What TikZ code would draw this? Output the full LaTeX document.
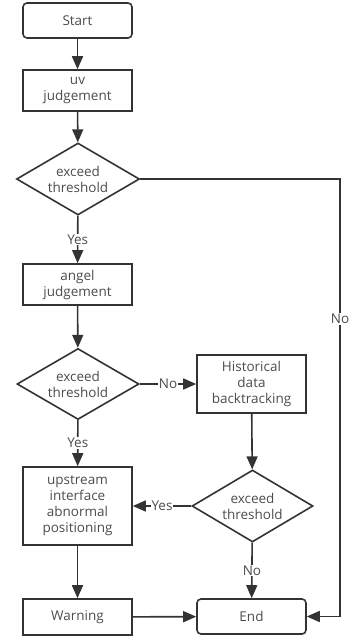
\documentclass[tikz,border=0pt]{standalone}
\usepackage{fontspec}
\setmainfont{Open Sans}
\usepackage{tikz}
\usetikzlibrary{arrows.meta,shapes.geometric}

\tikzset{
  box/.style={draw=black!80, line width=1.6pt, minimum width=109pt, align=center, inner sep=2pt, text=black!70},
  term/.style={box, rounded corners=4pt},
  dec/.style={draw=black!80, line width=1.6pt, diamond, aspect=1.7, inner sep=0pt, align=center, text=black!70},
  arr/.style={draw=black!80, line width=1.6pt, -{Triangle[length=13pt,width=11pt]}},
  lbl/.style={fill=white, inner sep=1pt, text=black!70},
}

\begin{document}
\begin{tikzpicture}[x=1pt,y=-1pt,font=\fontsize{13.5}{16}\selectfont]
    \useasboundingbox (0,0) rectangle (351,641);

    %Left column
    \node[term, minimum height=35pt] (start) at (77.5,20.5) {Start};
    \node[box, minimum height=41pt] (uv) at (77.5,90.5) {uv\\judgement};
    \node[dec, minimum width=123pt, minimum height=72pt] (d1) at (78,179) {exceed\\threshold};
    \node[box, minimum height=41pt] (angel) at (77.5,284.5) {angel\\judgement};
    \node[dec, minimum width=122pt, minimum height=71pt] (d2) at (78,384) {exceed\\threshold};
    \node[box, minimum height=78pt] (up) at (77.5,506) {upstream\\interface\\abnormal\\positioning};
    \node[box, minimum height=36pt] (warn) at (77.5,617) {Warning};

    %Right column
    \node[box, minimum height=58pt] (hist) at (251.5,384) {Historical\\data\\backtracking};
    \node[dec, minimum width=121pt, minimum height=72pt] (d3) at (252.5,506) {exceed\\threshold};
    \node[term, minimum height=35pt] (end) at (251.5,616.5) {End};
    \coordinate (nc) at (340,616.5);

    % Connectors
    \draw[arr] (start) -- (uv);
    \draw[arr] (uv) -- (d1);
    \draw[arr] (d1) -- node[lbl] {Yes} (angel);
    \draw[arr] (angel) -- (d2);
    \draw[arr] (d2) -- node[lbl] {No} (hist);
    \draw[arr] (d2) -- node[lbl] {Yes} (up);
    \draw[arr] (hist) -- (d3);
    \draw[arr] (d3) -- node[lbl] {Yes} (up);
    \draw[arr] (d3) -- node[lbl] {No} (end);
    \draw[arr] (up) -- (warn);
    \draw[arr] (warn) -- (end);
    \draw[arr] (d1.east) -| node[lbl, pos=0.66] {No} (nc) -- (end.east);
\end{tikzpicture}
\end{document}
